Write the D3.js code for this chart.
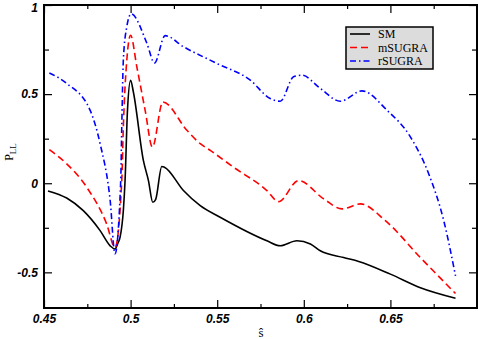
<!DOCTYPE html>
<html>
<head>
<meta charset="utf-8">
<script src="https://cdn.jsdelivr.net/npm/d3@7"></script>
<style>
  body { margin: 0; background: #fff; }
  .tick text { font-family: 'Liberation Sans', Arial, sans-serif; font-weight: bold; font-style: italic; font-size: 12px; fill: #000; }
</style>
</head>
<body>
<div id="chart"></div>
<script>
/** Data **/
const smX = [0.4523, 0.4631, 0.4727, 0.4824, 0.4882, 0.491, 0.4925, 0.4939, 0.4958, 0.4968, 0.4982, 0.500, 0.5016, 0.5074, 0.5103, 0.5128, 0.5145, 0.518, 0.5195, 0.5305, 0.5402, 0.5517, 0.5787, 0.5864, 0.596, 0.6038, 0.6095, 0.623, 0.6317, 0.65, 0.6673, 0.6876];
const smY = [-0.043, -0.083, -0.154, -0.266, -0.351, -0.369, -0.34, -0.304, -0.154, 0.015, 0.41, 0.578, 0.512, 0.127, 0.015, -0.107, -0.09, 0.094, 0.09, -0.041, -0.126, -0.191, -0.323, -0.351, -0.323, -0.341, -0.379, -0.417, -0.439, -0.51, -0.586, -0.645];

const mX = [0.4531, 0.4631, 0.4747, 0.4862, 0.491, 0.4949, 0.4958, 0.4978, 0.500, 0.5036, 0.5084, 0.5126, 0.5186, 0.5325, 0.5402, 0.546, 0.5594, 0.5787, 0.5854, 0.597, 0.6115, 0.6221, 0.6327, 0.6471, 0.6673, 0.6876];
const mY = [0.188, 0.109, -0.023, -0.229, -0.36, 0.015, 0.315, 0.69, 0.83, 0.653, 0.409, 0.203, 0.456, 0.297, 0.222, 0.184, 0.09, -0.041, -0.103, 0.015, -0.088, -0.144, -0.116, -0.21, -0.417, -0.619];

const rX = [0.4531, 0.4631, 0.4766, 0.4824, 0.4882, 0.491, 0.4943, 0.4949, 0.4958, 0.4978, 0.5003, 0.5094, 0.5138, 0.5199, 0.5305, 0.5498, 0.5691, 0.5806, 0.5864, 0.5941, 0.599, 0.6095, 0.6211, 0.6336, 0.6481, 0.6616, 0.6721, 0.6808, 0.6876];
const rY = [0.619, 0.56, 0.41, 0.222, -0.097, -0.396, 0.015, 0.315, 0.69, 0.878, 0.95, 0.785, 0.675, 0.828, 0.766, 0.672, 0.578, 0.475, 0.46, 0.597, 0.606, 0.532, 0.46, 0.518, 0.409, 0.259, 0.053, -0.21, -0.52];

const xTicks = [0.45, 0.5, 0.55, 0.6, 0.65];
const xMinor = [0.475, 0.525, 0.575, 0.625, 0.675];
const yTicks = [-0.5, 0, 0.5, 1];
const yMinor = [-0.25, 0.25, 0.75];

const seriesNames = ['SM', 'mSUGRA', 'rSUGRA'];
const seriesColors = ['#000000', '#ff0000', '#0000ff'];
const seriesDash = ['none', '7,4', '6,3,1.5,3'];

const series = [
  smX.map((x, i) => ({ x, y: smY[i] })),
  mX.map((x, i) => ({ x, y: mY[i] })),
  rX.map((x, i) => ({ x, y: rY[i] })),
];

/** Svg **/
const W = 478;
const H = 339;
const margin = { top: 5, right: 1, bottom: 31, left: 44 };
const width = W - margin.left - margin.right;
const height = H - margin.top - margin.bottom;

const svg = d3
  .select('#chart')
  .append('svg')
  .attr('width', W)
  .attr('height', H)
  .append('g')
  .attr('transform', `translate(${margin.left}, ${margin.top})`);

const x = d3.scaleLinear().domain([0.45, 0.7]).range([0, width]);
const y = d3.scaleLinear().domain([-0.7, 1]).range([height, 0]);

/** Axes: ticks point inward on all four sides **/
const fmt = (d) => (d === 0 ? '0' : String(d));

svg.append('g')
  .attr('transform', `translate(0, ${height})`)
  .call(d3.axisBottom(x).tickValues(xTicks).tickSize(-8).tickPadding(6).tickFormat(fmt));
svg.append('g')
  .attr('transform', `translate(0, ${height})`)
  .call(d3.axisBottom(x).tickValues(xMinor).tickSize(-4).tickFormat(''));
svg.append('g')
  .call(d3.axisTop(x).tickValues(xTicks).tickSize(-8).tickFormat(''));
svg.append('g')
  .call(d3.axisTop(x).tickValues(xMinor).tickSize(-4).tickFormat(''));

svg.append('g')
  .call(d3.axisLeft(y).tickValues(yTicks).tickSize(-8).tickPadding(6).tickFormat(fmt));
svg.append('g')
  .call(d3.axisLeft(y).tickValues(yMinor).tickSize(-5).tickFormat(''));
svg.append('g')
  .attr('transform', `translate(${width}, 0)`)
  .call(d3.axisRight(y).tickValues(yTicks).tickSize(-8).tickFormat(''));
svg.append('g')
  .attr('transform', `translate(${width}, 0)`)
  .call(d3.axisRight(y).tickValues(yMinor).tickSize(-5).tickFormat(''));

svg.selectAll('.domain').remove();
svg.selectAll('.tick line').attr('stroke', '#000').attr('stroke-width', 1.2);

// move the top "1" label a little down so it is not clipped
svg.selectAll('.tick text').filter((d) => d === 1).attr('dy', '0.5em');

/** Lines **/
const line = d3
  .line()
  .x((d) => x(d.x))
  .y((d) => y(d.y))
  .curve(d3.curveMonotoneX);

svg.selectAll('path.series')
  .data(series)
  .join('path')
  .attr('class', 'series')
  .attr('d', line)
  .attr('fill', 'none')
  .attr('stroke', (d, i) => seriesColors[i])
  .attr('stroke-width', 1.6)
  .attr('stroke-dasharray', (d, i) => seriesDash[i]);

/** Frame **/
svg.append('rect')
  .attr('width', width)
  .attr('height', height)
  .attr('fill', 'none')
  .attr('stroke', '#000')
  .attr('stroke-width', 2);

/** Axis titles **/
const ylab = svg.append('text')
  .attr('transform', `translate(${13 - margin.left}, ${152 - margin.top}) rotate(-90)`)
  .attr('text-anchor', 'middle')
  .style('font-family', "'Liberation Serif', 'Times New Roman', serif")
  .style('font-size', '12px');
ylab.append('tspan').text('P');
ylab.append('tspan').attr('dy', 3).style('font-size', '9px').text('LL');

svg.append('text')
  .attr('x', 261 - margin.left)
  .attr('y', 337 - margin.top)
  .attr('text-anchor', 'middle')
  .style('font-family', "'Liberation Serif', 'Times New Roman', serif")
  .style('font-size', '13px')
  .text('ŝ');

/** Legend **/
const legend = svg.append('g').attr('transform', `translate(${346 - margin.left}, ${27 - margin.top})`);
legend.append('rect')
  .attr('width', 87)
  .attr('height', 42)
  .attr('fill', '#dcdcdc')
  .attr('stroke', '#000')
  .attr('stroke-width', 1.5);

const item = legend.selectAll('g.item')
  .data(seriesNames)
  .join('g')
  .attr('class', 'item')
  .attr('transform', (d, i) => `translate(0, ${7 + i * 13.5})`);
item.append('line')
  .attr('x1', 4).attr('x2', 24)
  .attr('stroke', (d, i) => seriesColors[i])
  .attr('stroke-width', 1.6)
  .attr('stroke-dasharray', (d, i) => seriesDash[i]);
item.append('text')
  .attr('x', 32)
  .attr('dy', '0.35em')
  .style('font-family', "'Liberation Serif', 'Times New Roman', serif")
  .style('font-size', '12px')
  .text((d) => d);
</script>
</body>
</html>
